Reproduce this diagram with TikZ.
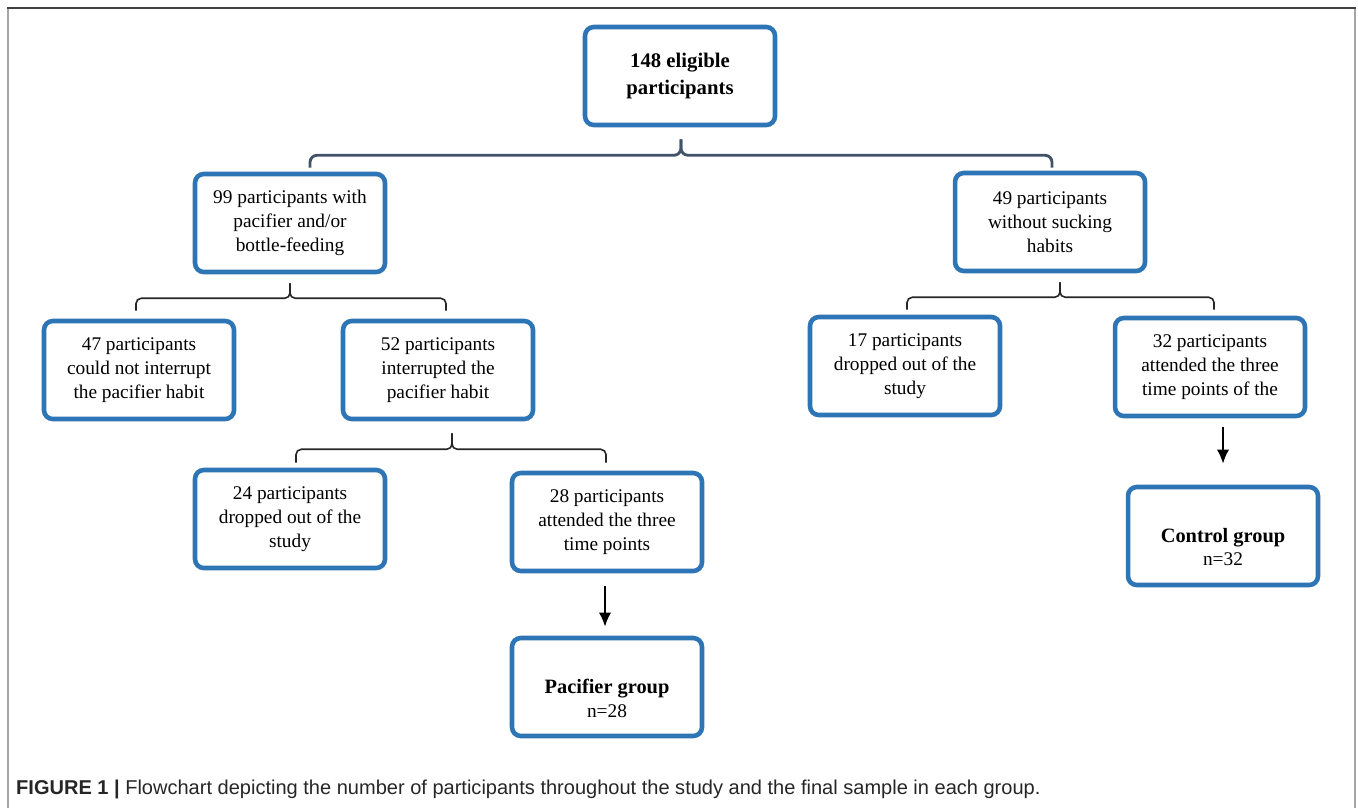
\documentclass[tikz,border=0pt]{standalone}
\usepackage{fontspec}
\setmainfont{Liberation Serif}
\newfontfamily\capfont{Liberation Sans}
\usepackage{tikz}
\usetikzlibrary{arrows.meta,calc,positioning}
\definecolor{boxblue}{RGB}{46,117,182}
\definecolor{slate}{RGB}{66,82,104}

\begin{document}
\begin{tikzpicture}[x=0.02cm,y=-0.02cm,>=Latex,
  every node/.style={font=\fontsize{11}{13.6}\selectfont},
  grp/.style={draw=boxblue,line width=2.6pt,rounded corners=5pt,fill=white,
    minimum width=3.8cm,minimum height=1.96cm,align=center,inner sep=2pt},
  brc/.style={draw=black!85,line width=0.9pt,rounded corners=3pt},
  arr/.style={->,line width=1.2pt,-{Latex[length=8pt,width=7pt]}}]
\useasboundingbox (0,0) rectangle (1358,808);
\draw[gray!70,line width=1.2pt] (8,808) -- (8,8);
\draw[gray!70,line width=1.2pt] (1355,8) -- (1355,808);
\draw[black!75,line width=1.2pt] (7,8) -- (1356,8);
% boxes
\node[grp,font=\fontsize{11.8}{15.5}\selectfont\bfseries] (top) at (680,76) {148 eligible\\participants};
\node[grp] (pacy) at (290,223) {99 participants with\\pacifier and/or\\bottle-feeding};
\node[grp] (none) at (1050,222) {49 participants\\without sucking\\habits};
\node[grp] (keep) at (139,370) {47 participants\\could not interrupt\\the pacifier habit};
\node[grp] (stop) at (438,370) {52 participants\\interrupted the\\pacifier habit};
\node[grp] (dropb) at (905,366) {17 participants\\dropped out of the\\study};
\node[grp] (attb) at (1210,367) {32 participants\\attended the three\\time points of the};
\node[grp] (dropa) at (290,519) {24 participants\\dropped out of the\\study};
\node[grp] (atta) at (607,522) {28 participants\\attended the three\\time points};
\node[grp] (pac) at (607,687) {};
\node[align=center] (pactxt) at ($(pac)+(0,11)$) {{\fontsize{11.6}{13.6}\selectfont\bfseries Pacifier group}\\n=28};
\node[grp] (ctl) at (1223,536) {};
\node[align=center] (ctltxt) at ($(ctl)+(0,11)$) {{\fontsize{11.6}{13.6}\selectfont\bfseries Control group}\\n=32};
% braces
\coordinate (t0) at ($(top.south)+(1,12)$);
\draw[brc,draw=slate,line width=1.6pt,rounded corners=4pt] (t0) -- ++(0,16) -| ($(pacy.north)+(20,-4)$);
\draw[brc,draw=slate,line width=1.6pt,rounded corners=4pt] (t0) -- ++(0,16) -| ($(none.north)+(2,-3)$);
\coordinate (t1) at ($(pacy.south)+(0,9)$);
\draw[brc] (t1) -- ++(0,15) -| ($(keep.north)+(-3,-8)$);
\draw[brc] (t1) -- ++(0,15) -| ($(stop.north)+(8,-8)$);
\coordinate (t2) at ($(stop.south)+(14,12)$);
\draw[brc] (t2) -- ++(0,16) -| ($(dropa.north)+(6,-5)$);
\draw[brc] (t2) -- ++(0,16) -| ($(atta.north)+(-1,-8)$);
\coordinate (t3) at ($(none.south)+(10,9)$);
\draw[brc] (t3) -- ++(0,15) -| ($(dropb.north)+(2,-5)$);
\draw[brc] (t3) -- ++(0,15) -| ($(attb.north)+(4,-6)$);
% arrows
\draw[arr] ($(atta.south)+(-2,13)$) -- ($(pac.north)+(-2,-9)$);
\draw[arr] ($(ctl.north |- attb.south)+(0,9)$) -- ($(ctl.north)+(0,-21)$);
\node[anchor=west,font=\capfont\fontsize{11.4}{13}\selectfont,text=black!85] (cap) at (10,789)
  {\textbf{FIGURE 1 |} Flowchart depicting the number of participants throughout the study and the final sample in each group.};
\end{tikzpicture}
\end{document}
